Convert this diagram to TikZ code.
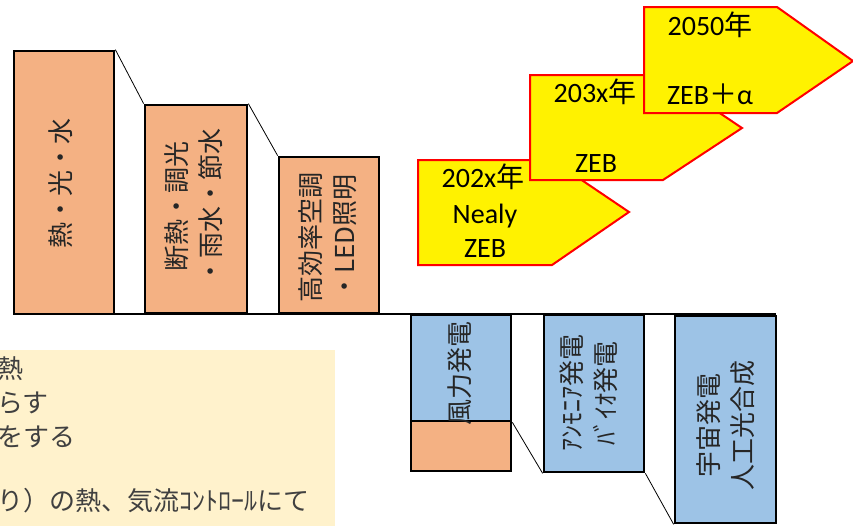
\documentclass[tikz,border=0pt]{standalone}
\usepackage{fontspec}
\setmainfont{Carlito}
\newfontfamily\jp{Noto Sans CJK JP}
\definecolor{orangeF}{HTML}{F4B183}
\definecolor{blueF}{HTML}{9DC3E6}
\definecolor{noteF}{HTML}{FFF2CC}
\definecolor{noteT}{HTML}{404040}
\begin{document}
\begin{tikzpicture}[x=1pt,y=-1pt,
  box/.style={draw=black, line width=2.7pt, minimum width=100pt, inner sep=0pt},
  obox/.style={box, fill=orangeF},
  bbox/.style={box, fill=blueF},
  vtext/.style={rotate=90, font=\jp\fontsize{26}{34}\selectfont, align=center, text=black!85, inner sep=0pt},
  link/.style={draw=black, line width=0.8pt},
  homeplate/.style={fill=yellow, draw=red, line width=2pt},
  atext/.style={anchor=base, inner sep=0pt, font=\fontsize{28}{34}\selectfont},
  notetext/.style={anchor=base west, inner sep=0pt, font=\jp\fontsize{26}{32}\selectfont, text=noteT}
]
\useasboundingbox (0,0) rectangle (853,525);

% note panel (cut at the left and bottom edges)
\fill[noteF] (-2,350) rectangle (335,530);
\node[notetext] (n1) at (-3,378) {熱};
\node[notetext] (n2) at (-3,412) {らす};
\node[notetext] (n3) at (-3,446) {をする};
\node[notetext] (n5) at (-3,510) {り）の熱、気流ｺﾝﾄﾛｰﾙにて};

% yellow home-plate arrows
\draw[homeplate] (418,160) -- (552,160) -- (629,212) -- (552,265) -- (418,265) -- cycle;
\draw[homeplate] (530,75) -- (663,75) -- (742,128) -- (663,180) -- (530,180) -- cycle;
\draw[homeplate] (644,7) -- (777,7) -- (853,61) -- (777,113) -- (644,113) -- cycle;

\node[atext] (a1a) at (483,187) {202x{\jp 年}};
\node[atext] (a1b) at (485,223) {Nealy};
\node[atext] (a1c) at (485,257) {ZEB};
\node[atext] (a2a) at (595,102) {203x{\jp 年}};
\node[atext] (a2b) at (596,172) {ZEB};
\node[atext] (a3a) at (710,35) {2050{\jp 年}};
\node[atext] (a3b) at (710,104) {ZEB{\jp ＋}α};

% base line
\coordinate (ls) at (14,314);
\coordinate (le) at (776,314);
\draw[line width=1.3pt] (ls) -- (le);

% left (orange) boxes
\node[obox, minimum height=263pt] (b1) at (64,182.5) {};
\node[obox, minimum width=102pt, minimum height=208pt] (b2) at (196,209) {};
\node[obox, minimum height=156pt] (b3) at (329,235) {};
\node[vtext] (t1) at (61,183) {熱・光・水};
\node[vtext] (t2) at (194,206) {断熱・調光\\・雨水・節水};
\node[vtext] (t3) at (328,237) {高効率空調\\・LED照明};

% right (blue) boxes
\node[bbox, minimum height=106pt] (b4) at (461,368) {};
\node[obox, minimum height=50pt] (b4o) at (461,446) {};
\node[bbox, minimum height=157pt] (b5) at (594,393.5) {};
\node[bbox, minimum width=101pt, minimum height=207pt] (b6) at (725.5,419.5) {};
\node[vtext] (t4) at (460,373) {風力発電};
\node[vtext] (t5) at (589,393) {ｱﾝﾓﾆｱ発電\\ﾊﾞｲｵ発電};
\node[vtext] (t6) at (726,425) {宇宙発電\\人工光合成};

% connectors
\draw[link] (b1.north east) -- (b2.north west);
\draw[link] (b2.north east) -- (b3.north west);
\draw[link] (b4.south east) -- (b5.south west);
\draw[link] (b5.south east) -- (b6.south west);
\end{tikzpicture}
\end{document}
